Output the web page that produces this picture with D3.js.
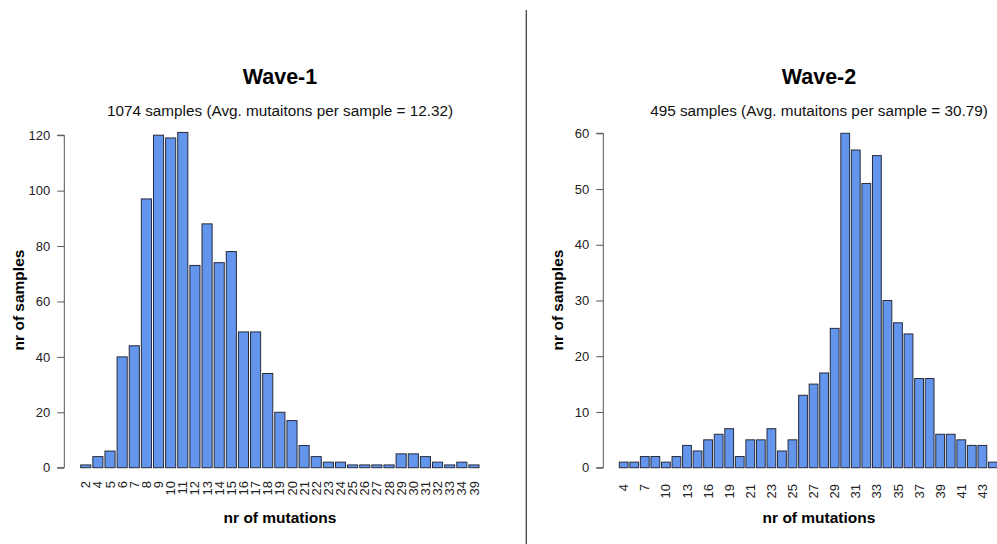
<!DOCTYPE html>
<html><head><meta charset="utf-8">
<script src="https://cdn.jsdelivr.net/npm/d3@7/dist/d3.min.js"></script>
<style>
html,body{margin:0;padding:0;background:#fff;overflow:hidden}
text{font-family:"Liberation Sans",Arial,Helvetica,sans-serif}
</style></head>
<body>
<svg id="chart" width="997" height="544"></svg>
<script>
// ---- data ----
const wave1Categories = ["2","4","5","6","7","8","9","10","11","12","13","14","15","16","17","18","19","20","21","22","23","24","25","26","27","28","29","30","31","32","33","34","39"];
const wave1Values = [1,4,6,40,44,97,120,119,121,73,88,74,78,49,49,34,20,17,8,4,2,2,1,1,1,1,5,5,4,2,1,2,1];
const wave1YTicks = [0,20,40,60,80,100,120];
const wave1Title = "Wave-1";
const wave1Subtitle = "1074 samples (Avg. mutaitons per sample = 12.32)";

const wave2Categories = ["4","5","7","8","10","11","13","14","16","17","19","20","21","22","23","24","25","26","27","28","29","30","31","32","33","34","35","36","37","38","39","40","41","42","43","44"];
const wave2Values = [1,1,2,2,1,2,4,3,5,6,7,2,5,5,7,3,5,13,15,17,25,60,57,51,56,30,26,24,16,16,6,6,5,4,4,1];
const wave2ShownLabels = ["4","7","10","13","16","19","21","23","25","27","29","31","33","35","37","39","41","43"];
const wave2YTicks = [0,10,20,30,40,50,60];
const wave2Title = "Wave-2";
const wave2Subtitle = "495 samples (Avg. mutaitons per sample = 30.79)";

const xTitle = "nr of mutations";
const yTitle = "nr of samples";

const svg = d3.select("#chart");

function panel(cfg){
  const g = svg.append("g");
  const x = d3.scaleBand().domain(cfg.categories).range([cfg.barLeft, cfg.barRight])
    .paddingInner(0.2/1.2).paddingOuter(0);
  const y = d3.scaleLinear().domain([0, cfg.yMax]).range([cfg.y0, cfg.yTop]);

  // bars
  g.selectAll("rect.bar").data(cfg.values).join("rect")
    .attr("class","bar")
    .attr("x",(d,i)=>x(cfg.categories[i]))
    .attr("width",x.bandwidth())
    .attr("y",d=>y(d))
    .attr("height",d=>y(0)-y(d))
    .attr("fill","#6495ED")
    .attr("stroke","#262b3a")
    .attr("stroke-width",1);

  // y axis
  const ya = d3.axisLeft(y).tickValues(cfg.yTicks).tickSize(7).tickPadding(7).tickFormat(d3.format("d"));
  const yg = g.append("g").attr("transform",`translate(${cfg.axisX},0)`).call(ya);
  yg.select(".domain").attr("d",`M-7,${y(0)}H0V${y(cfg.yMax)}H-7`).attr("stroke","#555");
  yg.selectAll(".tick line").attr("stroke","#555");
  yg.selectAll(".tick text").attr("font-size",13).attr("fill","#222")
    .attr("font-family","'Liberation Sans',Arial,sans-serif");

  // x labels (no axis line, as in R barplot)
  const xa = d3.axisBottom(x).tickValues(cfg.shown).tickSize(0).tickPadding(0);
  const xg = g.append("g").attr("transform",`translate(0,${cfg.labelTop})`).call(xa);
  xg.select(".domain").remove();
  xg.selectAll(".tick text")
    .attr("font-size",13).attr("fill","#222")
    .attr("font-family","'Liberation Sans',Arial,sans-serif")
    .attr("transform","rotate(-90)")
    .attr("text-anchor","end")
    .attr("x",0).attr("y",0).attr("dy","0.35em");

  // titles
  g.append("text").attr("x",cfg.center).attr("y",84).attr("text-anchor","middle")
    .attr("font-size",21.5).attr("font-weight","bold").attr("fill","#000").text(cfg.title);
  g.append("text").attr("x",cfg.center).attr("y",116).attr("text-anchor","middle")
    .attr("font-size",15.3).attr("fill","#111").text(cfg.subtitle);
  g.append("text").attr("x",cfg.center).attr("y",523).attr("text-anchor","middle")
    .attr("font-size",15.5).attr("font-weight","bold").attr("fill","#000").text(xTitle);
  g.append("text").attr("transform",`translate(${cfg.axisX-40},300) rotate(-90)`)
    .attr("text-anchor","middle")
    .attr("font-size",15.5).attr("font-weight","bold").attr("fill","#000").text(yTitle);
}

panel({
  categories: wave1Categories, values: wave1Values, shown: wave1Categories,
  yMax: 120, yTicks: wave1YTicks, title: wave1Title, subtitle: wave1Subtitle,
  barLeft: 80.7, barRight: 479.0, y0: 467.7, yTop: 135.2, axisX: 64.3,
  labelTop: 481, center: 280
});
panel({
  categories: wave2Categories, values: wave2Values, shown: wave2ShownLabels,
  yMax: 60, yTicks: wave2YTicks, title: wave2Title, subtitle: wave2Subtitle,
  barLeft: 619.3, barRight: 997.3, y0: 467.7, yTop: 133.3, axisX: 603.3,
  labelTop: 484, center: 819
});

// separator
svg.append("line").attr("x1",526.3).attr("x2",526.3).attr("y1",10).attr("y2",544)
  .attr("stroke","#444").attr("stroke-width",1.3);
</script>
</body></html>
